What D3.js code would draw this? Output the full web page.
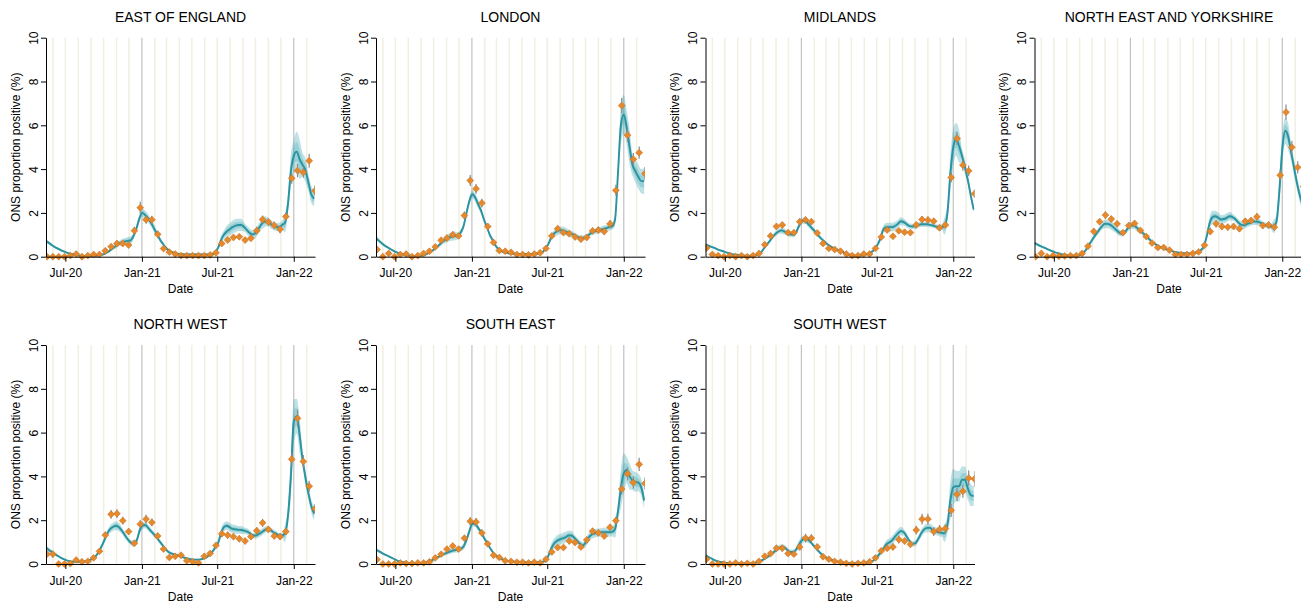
<!DOCTYPE html>
<html>
<head>
<meta charset="utf-8">
<script src="https://cdn.jsdelivr.net/npm/d3@7"></script>
<style>
  body { margin: 0; background: #fff; }
  svg { display: block; }
  text { font-family: "Liberation Sans", Arial, sans-serif; fill: #000; }
</style>
</head>
<body>
<svg id="chart" width="1301" height="603"></svg>
<script>
// ---- Data -------------------------------------------------------------
const regionNames = ["EAST OF ENGLAND", "LONDON", "MIDLANDS", "NORTH EAST AND YORKSHIRE",
                     "NORTH WEST", "SOUTH EAST", "SOUTH WEST"];

const xDomain = ["2020-05-15T12:00", "2022-02-21T00:00"];
const xTickDates = ["2020-07-01", "2021-01-01", "2021-07-01", "2022-01-01"];
const xTickLabels = ["Jul-20", "Jan-21", "Jul-21", "Jan-22"];
const yTicks = [0, 2, 4, 6, 8, 10];

const obsStart = "2020-05-18";   // ONS survey estimates, fortnightly
const obsStepDays = 14;
const fitStart = "2020-05-16";   // modelled curve, weekly
const fitStepDays = 7;

// ONS proportion positive (%) and error-bar half widths
const obsEast = [0,0,0,0,0.05,0.12,0,0.05,0.1,0.1, 0.27,0.46,0.6,0.6,0.53,1.19,2.24,1.69,1.69,1.02, 0.37,0.21,0.12,0.05,0.05,0.05,0.05,0.05,0.08,0.18, 0.6,0.76,0.88,0.91,0.76,0.84,1.19,1.7,1.58,1.43, 1.25,1.83,3.58,3.93,3.85,4.38,3.01];
const errEast = [0.08,0.08,0.08,0.08,0.08,0.08,0.08,0.08,0.08,0.08, 0.08,0.12,0.12,0.12,0.12,0.18,0.27,0.18,0.18,0.18, 0.12,0.08,0.08,0.08,0.08,0.08,0.08,0.08,0.08,0.08, 0.12,0.12,0.12,0.12,0.12,0.12,0.18,0.18,0.18,0.18, 0.18,0.18,0.25,0.3,0.25,0.32,0.25];
const obsLondon = [0.33,0,0.15,0,0.1,0.12,0,0.05,0.15,0.25, 0.45,0.75,0.85,1.0,0.95,1.88,3.48,3.1,2.45,1.38, 0.65,0.28,0.25,0.2,0.1,0.1,0.08,0.12,0.18,0.38, 0.95,1.28,1.1,1.05,0.9,0.8,0.88,1.18,1.22,1.15, 1.5,3.03,6.9,5.55,4.45,4.75,3.8];
const errLondon = [0.12,0.08,0.1,0.08,0.12,0.12,0.08,0.08,0.08,0.08, 0.12,0.12,0.12,0.15,0.12,0.18,0.25,0.22,0.2,0.15, 0.12,0.08,0.08,0.08,0.08,0.08,0.08,0.08,0.08,0.1, 0.12,0.15,0.12,0.12,0.12,0.12,0.12,0.15,0.15,0.15, 0.18,0.25,0.35,0.3,0.28,0.28,0.3];
const obsMidlands = [0.4,0.1,0.05,0,0.05,0,0.05,0,0.05,0.15, 0.55,0.95,1.38,1.45,1.1,1.1,1.6,1.68,1.6,1.08, 0.6,0.38,0.33,0.25,0.12,0.05,0.05,0.12,0.12,0.38, 0.9,1.22,0.93,1.18,1.12,1.1,1.45,1.7,1.68,1.62, 1.32,1.45,3.62,5.4,4.18,3.92,2.88];
const errMidlands = [0.1,0.08,0.08,0.08,0.08,0.08,0.08,0.08,0.08,0.08, 0.1,0.12,0.15,0.15,0.12,0.12,0.15,0.15,0.15,0.12, 0.1,0.08,0.08,0.08,0.08,0.08,0.08,0.08,0.08,0.08, 0.12,0.12,0.12,0.12,0.12,0.12,0.15,0.15,0.15,0.15, 0.12,0.12,0.22,0.3,0.25,0.25,0.2];
const obsNEY = [0,0.15,0,0.05,0.02,0.03,0.05,0.05,0.15,0.48, 1.15,1.6,1.9,1.72,1.5,1.1,1.42,1.52,1.2,0.92, 0.62,0.42,0.42,0.3,0.1,0.1,0.1,0.15,0.22,0.52, 1.15,1.5,1.38,1.35,1.38,1.28,1.62,1.65,1.82,1.42, 1.45,1.35,3.72,6.6,5.0,4.08,3.2];
const errNEY = [0.08,0.08,0.08,0.08,0.08,0.08,0.08,0.08,0.08,0.1, 0.15,0.15,0.18,0.15,0.15,0.12,0.15,0.15,0.12,0.12, 0.1,0.08,0.08,0.08,0.08,0.08,0.08,0.08,0.08,0.1, 0.15,0.15,0.15,0.15,0.15,0.15,0.15,0.15,0.18,0.15, 0.15,0.15,0.25,0.35,0.3,0.28,0.25];
const obsNW = [0.45,0.45,0,0,0.02,0.18,0.1,0.12,0.28,0.58, 1.32,2.27,2.3,1.98,1.48,0.95,1.82,2.05,1.9,1.28, 0.68,0.3,0.35,0.4,0.15,0.1,0.05,0.35,0.48,0.85, 1.38,1.32,1.25,1.15,1.05,1.25,1.52,1.88,1.58,1.28, 1.25,1.48,4.78,6.65,4.68,3.55,2.52];
const errNW = [0.12,0.15,0.08,0.08,0.08,0.1,0.08,0.08,0.08,0.1, 0.15,0.2,0.2,0.18,0.15,0.12,0.18,0.2,0.18,0.15, 0.1,0.08,0.08,0.08,0.08,0.08,0.08,0.08,0.1,0.12, 0.15,0.15,0.15,0.15,0.15,0.15,0.15,0.18,0.15,0.15, 0.15,0.15,0.3,0.4,0.3,0.25,0.22];
const obsSE = [0.2,0,0,0,0.05,0.02,0.02,0.05,0.05,0.1, 0.28,0.45,0.68,0.82,0.68,1.18,1.95,1.92,1.42,0.92, 0.4,0.3,0.15,0.12,0.08,0.08,0.05,0.08,0.05,0.22, 0.55,0.75,0.75,1.05,0.98,0.78,1.1,1.5,1.42,1.28, 1.68,1.98,3.42,4.12,3.72,4.55,3.68];
const errSE = [0.1,0.08,0.08,0.08,0.08,0.08,0.08,0.08,0.08,0.08, 0.08,0.1,0.12,0.12,0.12,0.15,0.2,0.18,0.15,0.12, 0.08,0.08,0.08,0.08,0.08,0.08,0.08,0.08,0.08,0.08, 0.1,0.12,0.12,0.15,0.12,0.12,0.15,0.15,0.15,0.15, 0.15,0.18,0.25,0.3,0.28,0.3,0.28];
const obsSW = [0.22,0,0,0,0,0.05,0,0.03,0,0.12, 0.35,0.48,0.72,0.72,0.48,0.45,0.78,1.18,1.18,0.78, 0.33,0.22,0.12,0.08,0.03,0,0.03,0.05,0.1,0.28, 0.6,0.72,0.78,1.12,1.05,0.9,1.55,2.05,2.05,1.48, 1.58,1.62,2.45,3.18,3.32,3.92,3.88];
const errSW = [0.1,0.08,0.08,0.08,0.08,0.08,0.08,0.08,0.08,0.08, 0.1,0.12,0.15,0.15,0.12,0.12,0.15,0.2,0.18,0.15, 0.08,0.08,0.08,0.08,0.08,0.08,0.08,0.08,0.08,0.08, 0.12,0.12,0.15,0.18,0.15,0.15,0.2,0.25,0.25,0.2, 0.2,0.2,0.3,0.3,0.3,0.35,0.35];

// Modelled prevalence (%), weekly
const fitEast = [0.72,0.62,0.52,0.44,0.37,0.30,0.24,0.19,0.15,0.11, 0.08,0.06,0.05,0.04,0.03,0.03,0.03,0.04,0.05,0.08, 0.13,0.2,0.3,0.4,0.5,0.6,0.66,0.7,0.72,0.75, 0.95,1.3,1.75,2.0,1.9,1.75,1.55,1.3,1.05,0.8, 0.6,0.42,0.3,0.22,0.17,0.14,0.12,0.11,0.1,0.1, 0.1,0.1,0.1,0.1,0.1,0.1,0.1,0.12,0.2,0.4, 0.75,1.0,1.15,1.25,1.35,1.42,1.45,1.45,1.35,1.2, 1.07,1.02,1.1,1.3,1.5,1.6,1.6,1.5,1.4,1.35, 1.35,1.45,1.55,2.4,3.9,4.6,4.8,4.45,4.2,3.95, 3.4,2.85,2.65];
const fitLondon = [0.85,0.72,0.6,0.5,0.42,0.34,0.27,0.2,0.15,0.11, 0.08,0.06,0.04,0.03,0.03,0.03,0.05,0.1,0.17,0.25, 0.35,0.46,0.58,0.7,0.8,0.88,0.93,0.95,0.95,1.1, 1.4,2.0,2.55,2.85,2.7,2.4,2.1,1.7,1.35,1.0, 0.75,0.5,0.35,0.25,0.2,0.17,0.15,0.14,0.13,0.12, 0.12,0.12,0.12,0.12,0.13,0.14,0.17,0.2,0.35,0.55, 0.85,1.05,1.15,1.2,1.2,1.15,1.1,1.05,1.0,0.92, 0.86,0.86,0.9,1.0,1.1,1.15,1.2,1.22,1.27,1.3, 1.35,1.38,1.7,3.8,6.0,6.5,5.9,5.0,4.2,3.9, 3.65,3.45,3.45];
const fitMidlands = [0.55,0.5,0.45,0.4,0.34,0.29,0.25,0.2,0.16,0.12, 0.1,0.08,0.06,0.05,0.04,0.04,0.05,0.06,0.1,0.2, 0.38,0.55,0.72,0.9,1.05,1.15,1.2,1.15,1.07,1.02, 1.0,1.1,1.4,1.62,1.65,1.52,1.37,1.23,1.08,0.92, 0.78,0.66,0.55,0.46,0.39,0.33,0.28,0.22,0.15,0.1, 0.07,0.05,0.05,0.05,0.07,0.1,0.15,0.22,0.35,0.55, 0.85,1.25,1.35,1.35,1.35,1.4,1.5,1.62,1.58,1.48, 1.4,1.38,1.4,1.45,1.48,1.48,1.48,1.45,1.42,1.38, 1.35,1.35,1.4,2.0,3.8,5.0,5.35,5.05,4.6,4.1, 3.5,2.8,2.15];
const fitNEY = [0.62,0.55,0.48,0.43,0.37,0.31,0.25,0.2,0.16,0.12, 0.09,0.07,0.06,0.05,0.05,0.06,0.1,0.22,0.4,0.62, 0.82,1.02,1.2,1.37,1.5,1.5,1.45,1.35,1.22,1.1, 1.05,1.12,1.3,1.42,1.42,1.33,1.2,1.1,0.97,0.84, 0.72,0.62,0.52,0.45,0.4,0.35,0.3,0.26,0.22,0.19, 0.17,0.16,0.15,0.15,0.15,0.17,0.22,0.3,0.45,0.9, 1.5,1.8,1.85,1.78,1.7,1.72,1.78,1.85,1.8,1.7, 1.55,1.45,1.43,1.5,1.55,1.6,1.6,1.58,1.52,1.45, 1.4,1.38,1.38,1.6,3.0,4.9,5.75,5.5,4.8,4.1, 3.4,2.8,2.35];
const fitNW = [0.75,0.63,0.55,0.45,0.37,0.29,0.22,0.17,0.13,0.11, 0.1,0.1,0.1,0.11,0.14,0.18,0.25,0.36,0.55,0.8, 1.1,1.4,1.6,1.7,1.75,1.68,1.52,1.32,1.13,0.98, 0.93,1.05,1.5,1.75,1.78,1.65,1.5,1.35,1.2,1.02, 0.85,0.68,0.55,0.48,0.43,0.4,0.35,0.3,0.27,0.23, 0.21,0.2,0.2,0.21,0.25,0.3,0.42,0.55,0.75,0.95, 1.4,1.68,1.75,1.68,1.6,1.58,1.56,1.55,1.52,1.48, 1.4,1.3,1.3,1.37,1.45,1.55,1.6,1.55,1.45,1.38, 1.3,1.3,1.4,2.2,4.0,6.5,6.75,5.9,4.8,3.95, 3.25,2.65,2.3];
const fitSE = [0.65,0.58,0.5,0.43,0.37,0.3,0.24,0.17,0.12,0.09, 0.07,0.05,0.04,0.03,0.03,0.04,0.05,0.07,0.12,0.17, 0.23,0.3,0.37,0.44,0.5,0.55,0.6,0.63,0.66,0.7, 0.8,1.1,1.5,1.85,1.82,1.65,1.45,1.2,0.98,0.75, 0.55,0.4,0.3,0.23,0.18,0.14,0.12,0.11,0.1,0.1, 0.09,0.08,0.08,0.08,0.08,0.08,0.08,0.1,0.15,0.35, 0.68,0.92,1.05,1.12,1.17,1.22,1.3,1.3,1.2,1.05, 0.92,0.85,1.0,1.22,1.35,1.4,1.43,1.45,1.45,1.45, 1.45,1.47,1.6,2.4,3.45,4.15,4.3,4.0,3.82,3.75, 3.72,3.5,2.9];
const fitSW = [0.4,0.32,0.25,0.18,0.13,0.1,0.07,0.05,0.04,0.03, 0.03,0.02,0.02,0.02,0.02,0.02,0.03,0.05,0.1,0.15, 0.22,0.3,0.4,0.5,0.62,0.72,0.78,0.76,0.65,0.55, 0.55,0.65,0.88,1.08,1.15,1.12,1.0,0.85,0.7,0.55, 0.42,0.32,0.25,0.2,0.15,0.12,0.09,0.07,0.06,0.05, 0.04,0.04,0.04,0.04,0.05,0.06,0.08,0.12,0.2,0.35, 0.52,0.7,0.9,0.98,1.08,1.25,1.4,1.5,1.45,1.25, 1.05,0.92,0.95,1.15,1.4,1.58,1.65,1.65,1.55,1.5, 1.45,1.42,1.4,1.8,2.9,3.5,3.55,3.55,3.85,3.85, 3.45,3.15,3.1];

// Credible-interval half widths (%), fortnightly: outer (95%) and inner (50%)
const bandEast = [0.08,0.06,0.05,0.04,0.03,0.03,0.03,0.03,0.03,0.03, 0.05,0.08,0.12,0.15,0.18,0.15,0.2,0.2,0.18,0.12, 0.08,0.05,0.05,0.05,0.05,0.05,0.05,0.05,0.05,0.1, 0.2,0.28,0.3,0.28,0.2,0.2,0.22,0.25,0.2,0.18, 0.2,0.45,0.75,0.9,0.55,0.4,0.35];
const innerEast = [0.04,0.03,0.03,0.02,0.02,0.02,0.02,0.02,0.02,0.02, 0.03,0.04,0.06,0.08,0.09,0.08,0.1,0.1,0.09,0.06, 0.04,0.03,0.03,0.03,0.03,0.03,0.03,0.03,0.03,0.05, 0.1,0.14,0.15,0.14,0.1,0.1,0.11,0.12,0.1,0.09, 0.1,0.22,0.35,0.45,0.28,0.2,0.18];
const bandLondon = [0.1,0.07,0.05,0.04,0.03,0.03,0.03,0.03,0.03,0.05, 0.08,0.12,0.18,0.2,0.15,0.15,0.2,0.2,0.15,0.1, 0.07,0.05,0.05,0.05,0.05,0.05,0.05,0.05,0.05,0.08, 0.15,0.18,0.18,0.15,0.12,0.12,0.12,0.12,0.15,0.15, 0.15,0.3,0.9,0.8,0.5,0.55,0.6];
const innerLondon = [0.05,0.04,0.03,0.02,0.02,0.02,0.02,0.02,0.02,0.03, 0.04,0.06,0.09,0.1,0.08,0.08,0.1,0.1,0.08,0.05, 0.04,0.03,0.03,0.03,0.03,0.03,0.03,0.03,0.03,0.04, 0.08,0.09,0.09,0.08,0.06,0.06,0.06,0.06,0.08,0.08, 0.08,0.15,0.45,0.4,0.25,0.28,0.3];
const bandMidlands = [0.06,0.05,0.04,0.03,0.03,0.03,0.03,0.03,0.03,0.03, 0.05,0.1,0.12,0.15,0.12,0.12,0.15,0.15,0.12,0.1, 0.08,0.06,0.04,0.04,0.04,0.04,0.04,0.04,0.04,0.08, 0.18,0.2,0.2,0.18,0.15,0.12,0.12,0.12,0.12,0.1, 0.12,0.4,0.85,0.75,0.35,0.2,0.15];
const innerMidlands = [0.03,0.03,0.02,0.02,0.02,0.02,0.02,0.02,0.02,0.02, 0.03,0.05,0.06,0.08,0.06,0.06,0.08,0.08,0.06,0.05, 0.04,0.03,0.02,0.02,0.02,0.02,0.02,0.02,0.02,0.04, 0.09,0.1,0.1,0.09,0.08,0.06,0.06,0.06,0.06,0.05, 0.06,0.2,0.42,0.38,0.18,0.1,0.08];
const bandNEY = [0.06,0.05,0.03,0.03,0.03,0.03,0.03,0.03,0.05,0.1, 0.12,0.15,0.2,0.2,0.15,0.12,0.15,0.15,0.12,0.1, 0.08,0.07,0.05,0.05,0.05,0.05,0.05,0.05,0.05,0.15, 0.3,0.25,0.2,0.2,0.15,0.15,0.15,0.15,0.15,0.12, 0.12,0.3,0.7,0.6,0.4,0.3,0.3];
const innerNEY = [0.03,0.03,0.02,0.02,0.02,0.02,0.02,0.02,0.03,0.05, 0.06,0.08,0.1,0.1,0.08,0.06,0.08,0.08,0.06,0.05, 0.04,0.04,0.03,0.03,0.03,0.03,0.03,0.03,0.03,0.08, 0.15,0.12,0.1,0.1,0.08,0.08,0.08,0.08,0.08,0.06, 0.06,0.15,0.35,0.3,0.2,0.15,0.15];
const bandNW = [0.1,0.06,0.04,0.04,0.04,0.04,0.05,0.05,0.06,0.1, 0.15,0.18,0.2,0.15,0.12,0.15,0.18,0.15,0.12,0.1, 0.08,0.07,0.05,0.05,0.05,0.05,0.05,0.05,0.08,0.12, 0.2,0.2,0.2,0.18,0.15,0.12,0.15,0.15,0.12,0.12, 0.12,0.4,1.0,0.8,0.35,0.3,0.35];
const innerNW = [0.05,0.03,0.02,0.02,0.02,0.02,0.03,0.03,0.03,0.05, 0.08,0.09,0.1,0.08,0.06,0.08,0.09,0.08,0.06,0.05, 0.04,0.04,0.03,0.03,0.03,0.03,0.03,0.03,0.04,0.06, 0.1,0.1,0.1,0.09,0.08,0.06,0.08,0.08,0.06,0.06, 0.06,0.2,0.5,0.4,0.18,0.15,0.18];
const bandSE = [0.08,0.05,0.03,0.03,0.03,0.03,0.03,0.03,0.03,0.04, 0.06,0.08,0.1,0.12,0.12,0.15,0.15,0.13,0.1,0.08, 0.06,0.04,0.04,0.04,0.04,0.04,0.04,0.04,0.04,0.1, 0.22,0.25,0.25,0.22,0.15,0.15,0.2,0.2,0.18,0.2, 0.2,0.4,0.9,0.6,0.45,0.4,0.4];
const innerSE = [0.04,0.03,0.02,0.02,0.02,0.02,0.02,0.02,0.02,0.02, 0.03,0.04,0.05,0.06,0.06,0.08,0.08,0.07,0.05,0.04, 0.03,0.02,0.02,0.02,0.02,0.02,0.02,0.02,0.02,0.05, 0.11,0.12,0.12,0.11,0.08,0.08,0.1,0.1,0.09,0.1, 0.1,0.2,0.45,0.3,0.22,0.2,0.2];
const bandSW = [0.05,0.04,0.02,0.02,0.02,0.02,0.02,0.02,0.02,0.04, 0.06,0.08,0.12,0.12,0.1,0.12,0.18,0.15,0.1,0.08, 0.06,0.04,0.03,0.03,0.03,0.03,0.03,0.03,0.03,0.08, 0.15,0.18,0.2,0.2,0.15,0.12,0.15,0.18,0.2,0.18, 0.18,0.4,0.85,0.7,0.6,0.5,0.45];
const innerSW = [0.03,0.02,0.01,0.01,0.01,0.01,0.01,0.01,0.01,0.02, 0.03,0.04,0.06,0.06,0.05,0.06,0.09,0.08,0.05,0.04, 0.03,0.02,0.02,0.02,0.02,0.02,0.02,0.02,0.02,0.04, 0.08,0.09,0.1,0.1,0.08,0.06,0.08,0.09,0.1,0.09, 0.09,0.2,0.42,0.35,0.3,0.25,0.22];

// ---- Layout & style ----------------------------------------------------
const colLeft = [46, 376, 705.5, 1034.5];
const rowTop = [37.7, 345];
const W = 269, H = 219;

const colors = {
  monthLine: "#F1EFE1",
  yearLine: "#C2C2C2",
  bandOuter: "rgba(64,168,180,0.34)",
  bandInner: "rgba(64,168,180,0.30)",
  fit: "#2A93A0",
  point: "#E5892C",
  pointEdge: "#C46D1C",
  errBar: "#8C8C8C"
};

const panels = [
  { name: regionNames[0], obs: obsEast, err: errEast, fit: fitEast, band: bandEast, inner: innerEast },
  { name: regionNames[1], obs: obsLondon, err: errLondon, fit: fitLondon, band: bandLondon, inner: innerLondon },
  { name: regionNames[2], obs: obsMidlands, err: errMidlands, fit: fitMidlands, band: bandMidlands, inner: innerMidlands },
  { name: regionNames[3], obs: obsNEY, err: errNEY, fit: fitNEY, band: bandNEY, inner: innerNEY },
  { name: regionNames[4], obs: obsNW, err: errNW, fit: fitNW, band: bandNW, inner: innerNW },
  { name: regionNames[5], obs: obsSE, err: errSE, fit: fitSE, band: bandSE, inner: innerSE },
  { name: regionNames[6], obs: obsSW, err: errSW, fit: fitSW, band: bandSW, inner: innerSW }
];

const parseDay = d3.timeParse("%Y-%m-%d");
const parseStamp = d3.timeParse("%Y-%m-%dT%H:%M");
const domain = xDomain.map(parseStamp);
const obsStartDate = parseDay(obsStart);
const fitStartDate = parseDay(fitStart);
const tickDates = xTickDates.map(parseDay);

const svg = d3.select("#chart");

panels.forEach((p, k) => {
  const left = colLeft[k % 4];
  const top = rowTop[Math.floor(k / 4)];
  const g = svg.append("g").attr("transform", `translate(${left},${top})`);

  const x = d3.scaleTime().domain(domain).range([0, W]);
  const y = d3.scaleLinear().domain([0, 10]).range([H, 0]);

  const clipId = `clip-${k}`;
  g.append("clipPath").attr("id", clipId)
    .append("rect").attr("x", 0).attr("y", -10).attr("width", W).attr("height", H + 20);

  const plot = g.append("g").attr("clip-path", `url(#${clipId})`);

  // monthly reference lines (January darker)
  const months = d3.timeMonth.range(d3.timeMonth.ceil(domain[0]), domain[1]);
  plot.selectAll("line.month").data(months).join("line")
    .attr("class", "month")
    .attr("x1", d => x(d)).attr("x2", d => x(d))
    .attr("y1", 0).attr("y2", H)
    .attr("stroke", d => d.getMonth() === 0 ? colors.yearLine : colors.monthLine)
    .attr("stroke-width", d => d.getMonth() === 0 ? 1.2 : 1.5);

  const fitData = p.fit.map((v, i) => ({
    date: d3.timeDay.offset(fitStartDate, i * fitStepDays),
    v,
    band: p.band[i >> 1],
    inner: p.inner[i >> 1]
  }));

  const curve = d3.curveMonotoneX;
  const outerArea = d3.area().curve(curve)
    .x(d => x(d.date))
    .y0(d => y(Math.max(0, d.v - d.band)))
    .y1(d => y(d.v + d.band));
  const innerArea = d3.area().curve(curve)
    .x(d => x(d.date))
    .y0(d => y(Math.max(0, d.v - d.inner)))
    .y1(d => y(d.v + d.inner));
  const fitLine = d3.line().curve(curve).x(d => x(d.date)).y(d => y(d.v));

  plot.append("path").datum(fitData).attr("d", outerArea).attr("fill", colors.bandOuter);
  plot.append("path").datum(fitData).attr("d", innerArea).attr("fill", colors.bandInner);
  plot.append("path").datum(fitData).attr("d", fitLine)
    .attr("fill", "none").attr("stroke", colors.fit).attr("stroke-width", 1.9);

  const obsData = p.obs.map((v, i) => ({
    date: d3.timeDay.offset(obsStartDate, i * obsStepDays),
    v,
    e: p.err[i]
  }));

  plot.selectAll("line.err").data(obsData).join("line")
    .attr("class", "err")
    .attr("x1", d => x(d.date)).attr("x2", d => x(d.date))
    .attr("y1", d => y(Math.max(0, d.v - d.e))).attr("y2", d => y(d.v + d.e))
    .attr("stroke", colors.errBar).attr("stroke-width", 1.2);

  const diamond = d3.symbol().type(d3.symbolSquare).size(24);
  plot.selectAll("path.pt").data(obsData).join("path")
    .attr("class", "pt")
    .attr("d", diamond)
    .attr("transform", d => `translate(${x(d.date)},${y(d.v)}) rotate(45)`)
    .attr("fill", colors.point)
    .attr("stroke", colors.pointEdge)
    .attr("stroke-width", 0.5);

  // axes
  const xAxis = d3.axisBottom(x).tickValues(tickDates)
    .tickFormat((d, i) => xTickLabels[i]).tickSize(5).tickSizeOuter(0).tickPadding(7);
  const gx = g.append("g").attr("transform", `translate(0,${H})`).call(xAxis);
  gx.selectAll("text").attr("font-size", 12).attr("font-family", null);
  gx.attr("font-family", null);

  const yAxis = d3.axisLeft(y).tickValues(yTicks).tickSize(5).tickSizeOuter(0);
  const gy = g.append("g").call(yAxis);
  gy.attr("font-family", null);
  gy.selectAll(".tick text")
    .attr("x", null).attr("dy", null)
    .attr("font-size", 12)
    .attr("text-anchor", "middle")
    .attr("transform", "translate(-8.5,0) rotate(-90)");

  [gx, gy].forEach(a => {
    a.select(".domain").attr("stroke", "#000").attr("stroke-width", 1);
    a.selectAll(".tick line").attr("stroke", "#000");
  });

  // titles
  g.append("text").attr("x", W / 2).attr("y", -16)
    .attr("text-anchor", "middle").attr("font-size", 14).text(p.name);
  g.append("text").attr("x", W / 2).attr("y", H + 36.5)
    .attr("text-anchor", "middle").attr("font-size", 12).text("Date");
  g.append("text")
    .attr("transform", `translate(-26.5,${H / 2}) rotate(-90)`)
    .attr("text-anchor", "middle").attr("font-size", 12)
    .text("ONS proportion positive (%)");
});
</script>
</body>
</html>
